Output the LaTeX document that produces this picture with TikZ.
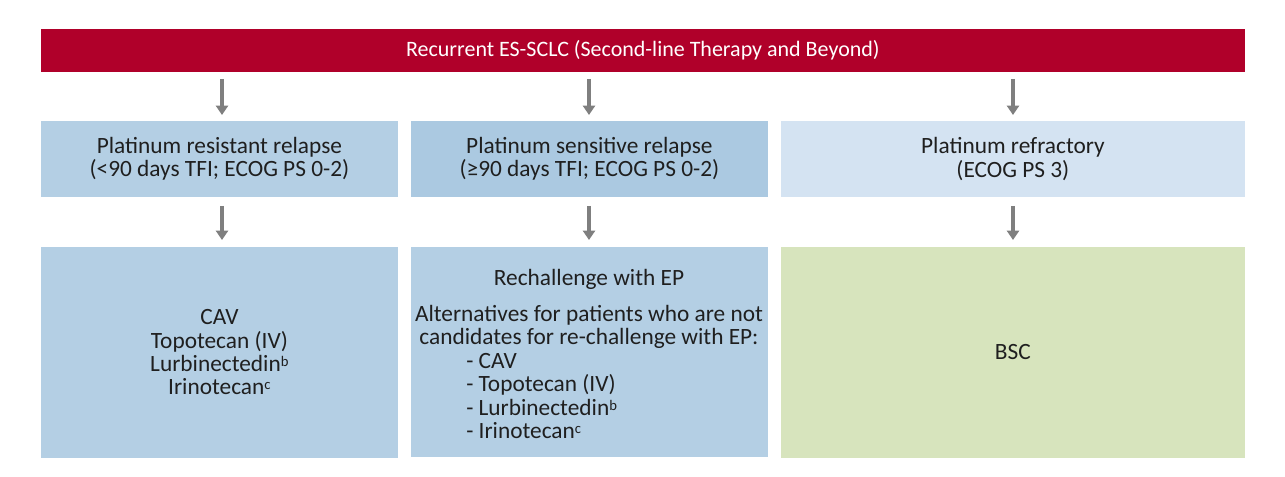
\documentclass[tikz,border=0pt]{standalone}
\usepackage{fontspec}
\setmainfont{Carlito}
\usetikzlibrary{arrows.meta}
\definecolor{banred}{HTML}{B0002A}
\definecolor{bx}{HTML}{B4CFE4}
\definecolor{bxd}{HTML}{ABC9E1}
\definecolor{bxl}{HTML}{D4E3F2}
\definecolor{grn}{HTML}{D7E4BD}
\definecolor{arr}{HTML}{7F7F7F}
\newcommand{\sups}[1]{\raisebox{0.45ex}{\fontsize{11}{11}\selectfont #1}}
\begin{document}
\begin{tikzpicture}[x=0.75pt,y=-0.75pt,
  fnt/.style={font=\fontsize{17.5}{17.5}\selectfont,text=black!88},
  box/.style={fnt,draw=white,line width=0.6pt,inner sep=0,anchor=north west,align=center},
  con/.style={draw=arr,line width=3pt,-{Triangle[width=9pt,length=7pt]}}]
\useasboundingbox (0,0) rectangle (1285,477);
\node[box,fill=banred,text=white,font=\fontsize{16.5}{18}\selectfont,minimum width=1205*0.75pt,minimum height=44*0.75pt] (top) at (40,28) {Recurrent ES-SCLC (Second-line Therapy and Beyond)};
\node[box,fill=bx,minimum width=358*0.75pt,minimum height=77*0.75pt] (a1) at (40,120) {Platinum resistant relapse\\(<90 days TFI; ECOG PS 0-2)};
\node[box,fill=bxd,minimum width=358*0.75pt,minimum height=77*0.75pt] (b1) at (410,120) {Platinum sensitive relapse\\(≥90 days TFI; ECOG PS 0-2)};
\node[box,fill=bxl,minimum width=465*0.75pt,minimum height=77*0.75pt] (c1) at (780,120) {Platinum refractory\\(ECOG PS 3)};
\node[box,fill=bx,minimum width=358*0.75pt,minimum height=212*0.75pt] (a2) at (40,246) {CAV\\Topotecan (IV)\\Lurbinectedin\sups{b}\\Irinotecan\sups{c}};
\node[box,fill=bx,minimum width=358*0.75pt,minimum height=211*0.75pt] (b2) at (410,246) {};
\node[box,fill=grn,minimum width=465*0.75pt,minimum height=212*0.75pt] (c2) at (780,246) {BSC};
\node[fnt] (b2t) at (589,279) {Rechallenge with EP};
\node[fnt,align=center,anchor=north,inner sep=0] (b2a) at (589,305) {Alternatives for patients who are not\\candidates for re-challenge with EP:};
\node[fnt,align=left,anchor=north west,inner sep=0] (b2b) at (466,353) {- CAV\\- Topotecan (IV)\\- Lurbinectedin\sups{b}\\- Irinotecan\sups{c}};
\coordinate (t1) at (222,79); \coordinate (t2) at (589,79); \coordinate (t3) at (1013,79);
\draw[con] (t1) -- (222,115);
\draw[con] (t2) -- (589,115);
\draw[con] (t3) -- (1013,115);
\draw[con] (a1.south-|t1) ++(0,8) -- (222,240);
\draw[con] (b1.south-|t2) ++(0,8) -- (589,240);
\draw[con] (c1.south-|t3) ++(0,8) -- (1013,240);
\end{tikzpicture}
\end{document}
